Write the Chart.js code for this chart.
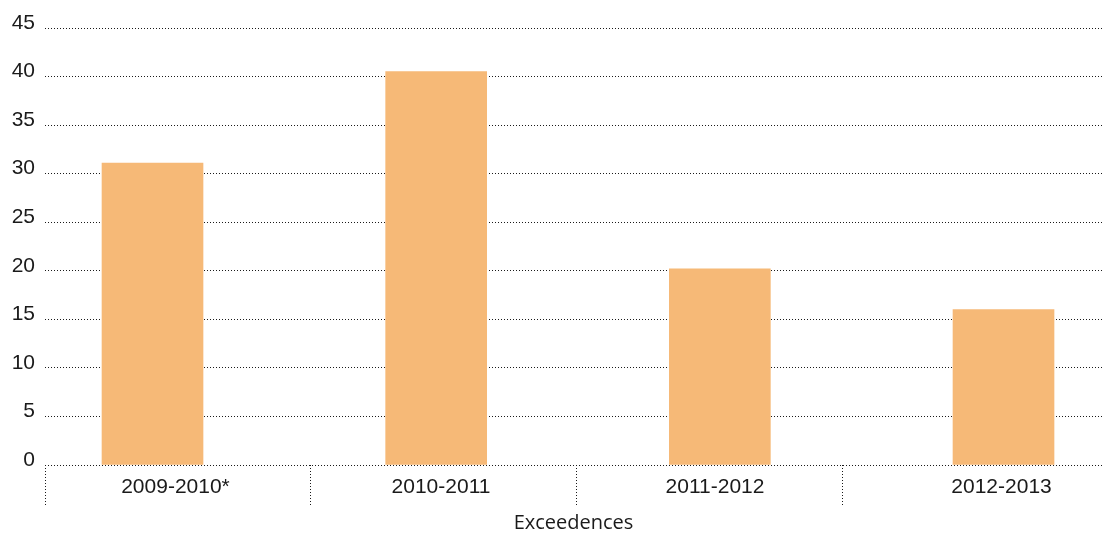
<!DOCTYPE html>
<html>
<head>
<meta charset="utf-8">
<script src="https://cdn.jsdelivr.net/npm/chart.js@4.4.1/dist/chart.umd.min.js"></script>
<style>
  html, body { margin: 0; padding: 0; background: #ffffff; }
  #wrap { width: 1102px; height: 533px; position: relative; }
</style>
</head>
<body>
<div id="wrap"><canvas id="c" width="1102" height="533"></canvas></div>
<script>
// ---- data ----
const categories = ['2009-2010*', '2010-2011', '2011-2012', '2012-2013'];
const exceedences = [31.1, 40.5, 20.2, 16.0];
const yTicks = [0, 5, 10, 15, 20, 25, 30, 35, 40, 45];
const axisTitle = 'Exceedences';
// positions along the category axis (in category units, bar i sits at i)
const labelAt = [0.081, 1.017, 1.983, 2.993];
const separatorAt = [-0.379, 0.5587, 1.493, 2.4307];
const xRange = [-0.379, 3.3472];

const barColor = '#F6B977';
const dotColor = '#1a1a1a';

const points = exceedences.map((v, i) => ({ x: i, y: v }));

new Chart(document.getElementById('c'), {
  type: 'bar',
  data: {
    datasets: [{
      label: axisTitle,
      data: points,
      backgroundColor: barColor,
      borderWidth: 0,
      barThickness: 101
    }]
  },
  options: {
    responsive: false,
    animation: false,
    layout: { padding: { top: 28, right: 0, left: 0, bottom: 0 } },
    plugins: { legend: { display: false }, tooltip: { enabled: false } },
    scales: {
      x: {
        type: 'linear',
        offset: false,
        min: xRange[0],
        max: xRange[1],
        border: { display: false, dash: [1, 2] },
        afterBuildTicks: (scale) => {
          const t = [];
          separatorAt.forEach(v => t.push({ value: v, sep: true, text: '' }));
          labelAt.forEach((v, i) => t.push({ value: v, sep: false, text: categories[i] }));
          t.sort((a, b) => a.value - b.value);
          scale.ticks = t;
        },
        afterFit: (scale) => { scale.height = 68; },
        grid: {
          display: true,
          offset: false,
          drawOnChartArea: false,
          drawTicks: true,
          tickLength: 42,
          tickWidth: 1,
          tickColor: (ctx) => (ctx.tick && ctx.tick.sep) ? dotColor : 'rgba(0,0,0,0)',
          tickBorderDash: [1, 2]
        },
        ticks: {
          autoSkip: false,
          maxRotation: 0,
          minRotation: 0,
          padding: -32,
          color: '#1a1a1a',
          font: { family: '"Liberation Sans", Arial, sans-serif', size: 21 },
          callback: function (value, index, ticks) { return ticks[index].text; }
        },
        title: {
          display: true,
          text: axisTitle,
          color: '#1a1a1a',
          font: { family: '"Open Sans", sans-serif', size: 20, lineHeight: 1 },
          padding: { top: 0, bottom: 0 }
        }
      },
      y: {
        min: 0,
        max: 45,
        z: 1,
        border: { display: false, dash: [1, 2] },
        afterBuildTicks: (scale) => { scale.ticks = yTicks.map(v => ({ value: v })); },
        afterFit: (scale) => { scale.width = 45; },
        grid: {
          drawTicks: false,
          color: dotColor,
          lineWidth: 1
        },
        ticks: {
          padding: 10,
          labelOffset: -5,
          color: '#1a1a1a',
          font: { family: '"Liberation Sans", Arial, sans-serif', size: 21 }
        }
      }
    }
  }
});
</script>
</body>
</html>
